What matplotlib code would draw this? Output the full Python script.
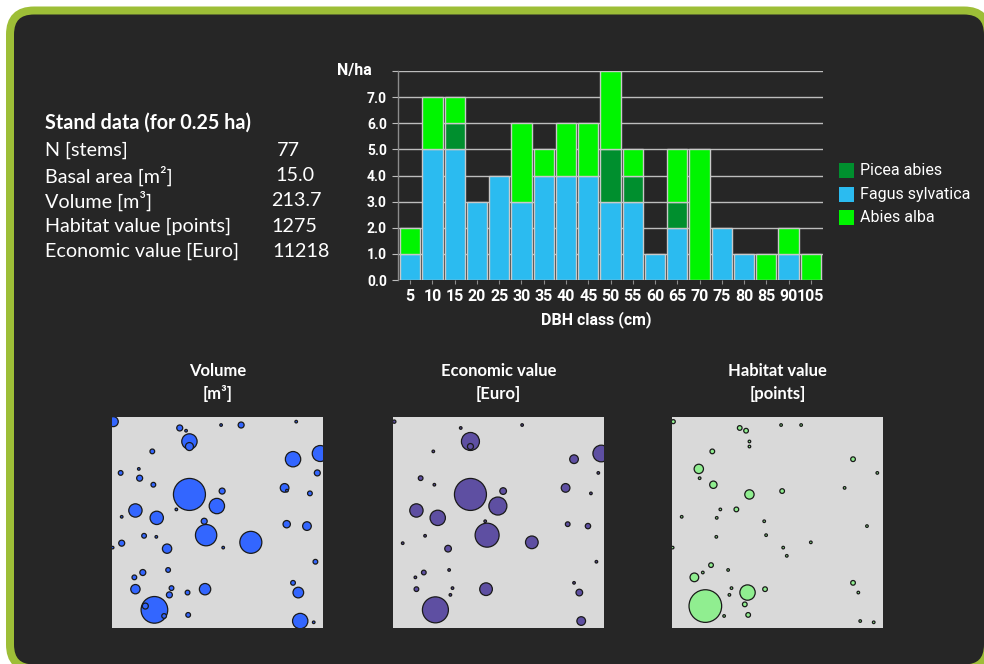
import matplotlib
matplotlib.use("Agg")
import matplotlib.pyplot as plt
from matplotlib.patches import FancyBboxPatch, Rectangle
import numpy as np

# ---------------- data ----------------
dbh_classes = ["5", "10", "15", "20", "25", "30", "35", "40", "45", "50",
               "55", "60", "65", "70", "75", "80", "85", "90", "105"]
fagus  = [1, 5, 5, 3, 4, 3, 4, 4, 4, 3, 3, 1, 2, 0, 2, 1, 0, 1, 0]
picea  = [0, 0, 1, 0, 0, 0, 0, 0, 0, 2, 1, 0, 1, 0, 0, 0, 0, 0, 0]
abies  = [1, 2, 1, 0, 0, 3, 1, 2, 2, 3, 1, 0, 2, 5, 0, 0, 1, 1, 1]
y_ticks = [0, 1, 2, 3, 4, 5, 6, 7]

stand_labels = ["N [stems]", "Basal area [m\u00b2]", "Volume [m\u00b3]",
                "Habitat value [points]", "Economic value [Euro]"]
stand_values = ["77", "15.0", "213.7", "1275", "11218"]

# tree map (0.25 ha plot, 50 m x 50 m)
tree_x = [0.3, 16.05, 17.55, 18.35, 18.35, 25.85, 30.6, 43.65, 9.55, 42.9,
          49.35, 2.05, 6.35, 6.55, 9.8, 48.65, 18.35, 26.1, 40.9, 41.45,
          46.9, 5.55, 15.25, 24.85, 2.3, 10.6, 21.85, 22.3, 7.6, 10.5,
          2.3, 0.15, 13.05, 32.9, 26.35, 41.4, 46.2, 48.2, 13.3, 7.3,
          5.3, 5.55, 14.1, 13.6, 17.9, 22.05, 42.9, 44.15, 10.05, 7.9,
          12.35, 18.05, 44.6, 47.8, 17.25, 11.45, 9.25, 27.2]
tree_y = [48.9, 47.4, 46.75, 44.2, 43.0, 48.1, 48.1, 48.9, 41.85, 40.0,
          41.35, 36.75, 37.7, 35.5, 33.95, 36.75, 31.65, 32.45, 33.2, 32.55,
          31.9, 27.85, 28.1, 28.9, 26.35, 26.1, 25.3, 22.0, 21.85, 21.6,
          20.1, 19.05, 18.8, 20.3, 19.05, 24.6, 24.15, 15.7, 13.75, 13.15,
          12.0, 9.2, 9.45, 7.85, 8.4, 9.2, 10.7, 8.4, 4.3, 5.2,
          2.85, 3.1, 1.65, 1.35, 5.6, 28.1, 14.9, 17.1]
volume = [1.17, 0.42, 0.06, 2.76, 0.75, 0.06, 0.42, 0.06, 0.26, 2.76,
          3.0, 0.26, 0.06, 0.42, 0.26, 0.42, 12.0, 0.42, 0.88, 0.06,
          0.26, 2.08, 0.06, 2.76, 0.06, 2.08, 0.42, 5.33, 0.26, 0.06,
          0.42, 0.06, 1.02, 5.67, 0.06, 0.63, 0.88, 0.26, 0.26, 0.42,
          0.26, 1.02, 0.26, 0.42, 0.26, 1.51, 0.26, 1.33, 8.33, 0.42,
          0.26, 0.26, 2.76, 0.06, 0, 0, 0, 0]
economic = [16, 8, 0, 475, 53, 0, 8, 0, 8, 110,
            407, 0, 0, 32, 8, 8, 1500, 65, 110, 0,
            8, 260, 0, 475, 0, 344, 8, 844, 8, 0,
            8, 0, 65, 235, 0, 32, 42, 8, 8, 32,
            8, 32, 8, 8, 0, 235, 8, 65, 990, 0,
            0, 0, 110, 0, 0, 0, 0, 0]
habitat = [4.7, 6.4, 6.4, 1.6, 1.6, 1.6, 1.6, 0, 6.4, 6.4,
           0, 0, 25.5, 1.6, 15.8, 1.6, 25.5, 6.4, 1.6, 0,
           0, 0, 6.4, 0, 1.6, 1.6, 1.6, 1.6, 0, 1.6,
           0, 1.6, 0, 1.6, 1.6, 0, 1.6, 0, 1.6, 1.6,
           22.0, 0, 1.6, 1.6, 68.9, 6.4, 6.4, 1.6, 0, 312,
           1.6, 6.4, 1.6, 1.6, 6.4, 1.6, 6.4, 1.6]

# ---------------- figure ----------------
W, H = 984, 664
fig = plt.figure(figsize=(W / 100, H / 100), dpi=100, facecolor="white")

def fbox(x0, y0, x1, y1):
    return [x0 / W, 1 - y1 / H, (x1 - x0) / W, (y1 - y0) / H]

bg = fig.add_axes([0, 0, 1, 1])
bg.set_xlim(0, W)
bg.set_ylim(H, 0)
bg.axis("off")
bg.add_patch(FancyBboxPatch((10, 10.5), 978, 658,
                            boxstyle="round,pad=0,rounding_size=24",
                            facecolor="#262626", edgecolor="#9DBE37",
                            linewidth=8 * 0.72))

CAL = ["Lato", "DejaVu Sans"]
ROB = ["Roboto", "DejaVu Sans"]

# stand data block
bg.text(45, 123, "Stand data (for 0.25 ha)", color="white", fontsize=14.2,
        fontweight="bold", family=CAL, va="center", ha="left")
row_y = [150, 175.5, 201, 226.5, 251.5]
val_x = [277, 275, 271, 271, 272]
for lab, val, yy, vx in zip(stand_labels, stand_values, row_y, val_x):
    bg.text(45, yy, lab, color="white", fontsize=14.2, family=CAL,
            va="center", ha="left")
    bg.text(vx, yy, val, color="white", fontsize=14.2, family=CAL,
            va="center", ha="left")

# ---------------- bar chart ----------------
c_fagus, c_picea, c_abies = "#2BBBF0", "#008F2E", "#00F500"
ax = fig.add_axes(fbox(398, 71, 823, 280))
ax.set_facecolor("none")
x = np.arange(len(dbh_classes))
fa = np.array(fagus, float)
pi = np.array(picea, float)
ab = np.array(abies, float)
bw = 0.92
ekw = dict(edgecolor="#C9C9C9", linewidth=1.0, width=bw, zorder=3)
m = fa > 0
ax.bar(x[m], fa[m], color=c_fagus, **ekw)
m = pi > 0
ax.bar(x[m], pi[m], bottom=fa[m], color=c_picea, **ekw)
m = ab > 0
ax.bar(x[m], ab[m], bottom=(fa + pi)[m], color=c_abies, **ekw)

ax.set_xlim(-0.55, len(dbh_classes) - 0.45)
ax.set_ylim(0, 8)
ax.set_yticks(list(range(9)))
ax.set_yticklabels([f"{v:.1f}" for v in y_ticks] + [""])
ax.set_xticks(x)
ax.set_xticklabels(dbh_classes)
ax.grid(axis="y", color="#BDBDBD", linewidth=1.0, zorder=0)
ax.set_axisbelow(True)
for s in ["top", "right", "bottom"]:
    ax.spines[s].set_visible(False)
ax.spines["left"].set_color("#8C8C8C")
ax.spines["left"].set_linewidth(1.0)
ax.tick_params(axis="y", length=4, color="#BDBDBD", pad=4, labelcolor="white",
               labelsize=10)
ax.tick_params(axis="x", length=3, color="#8C8C8C", pad=3.5, labelcolor="white",
               labelsize=11.5)
for t in ax.get_yticklabels() + ax.get_xticklabels():
    t.set_fontweight("bold")
    t.set_family(ROB)

bg.text(354, 71, "N/ha", color="white", fontsize=11.5, fontweight="bold",
        family=ROB, ha="center", va="center")
bg.text(596, 320, "DBH class (cm)", color="white", fontsize=11.5,
        fontweight="bold", family=ROB, ha="center", va="center")

# legend
leg_items = [("Picea abies", c_picea), ("Fagus sylvatica", c_fagus),
             ("Abies alba", c_abies)]
for i, (name, col) in enumerate(leg_items):
    yc = 170.5 + 23.5 * i
    bg.add_patch(Rectangle((839, yc - 7.5), 15, 15, facecolor=col,
                           edgecolor="none"))
    bg.text(860, yc, name, color="white", fontsize=11.5, family=ROB,
            ha="left", va="center")

# ---------------- tree maps ----------------
panels = [
    ((112, 417, 323, 628), volume, 12.0, "#3366FF", ("Volume", "[m\u00b3]")),
    ((393, 417, 604, 628), economic, 1500.0, "#5E4FA2", ("Economic value", "[Euro]")),
    ((672, 417, 883, 628), habitat, 300.0, "#90EE90", ("Habitat value", "[points]")),
]
tx = np.array(tree_x)
ty = np.array(tree_y)
for (x0, y0, x1, y1), vals, vref, col, title in panels:
    pa = fig.add_axes(fbox(x0, y0, x1, y1))
    pa.set_facecolor("#D9D9D9")
    pa.set_xlim(0, 50)
    pa.set_ylim(0, 50)
    pa.set_xticks([])
    pa.set_yticks([])
    for s in pa.spines.values():
        s.set_visible(False)
    v = np.array(vals, float)
    keep = v > 0
    r_px = 16.0 * np.sqrt(v[keep] / vref)
    r_px = np.maximum(r_px, 1.3)
    d_pt = 2 * r_px * 0.72
    order = np.argsort(-d_pt)
    pa.scatter(tx[keep][order], ty[keep][order], s=(d_pt[order]) ** 2,
               c=col, edgecolors="#1A1A1A", linewidths=0.9, zorder=3)
    cx = (x0 + x1) / 2
    bg.text(cx, 371, title[0], color="white", fontsize=12, fontweight="bold",
            family=CAL, ha="center", va="center")
    bg.text(cx, 394, title[1], color="white", fontsize=12, fontweight="bold",
            family=CAL, ha="center", va="center")

fig.savefig("out.png", dpi=100, facecolor="white")
